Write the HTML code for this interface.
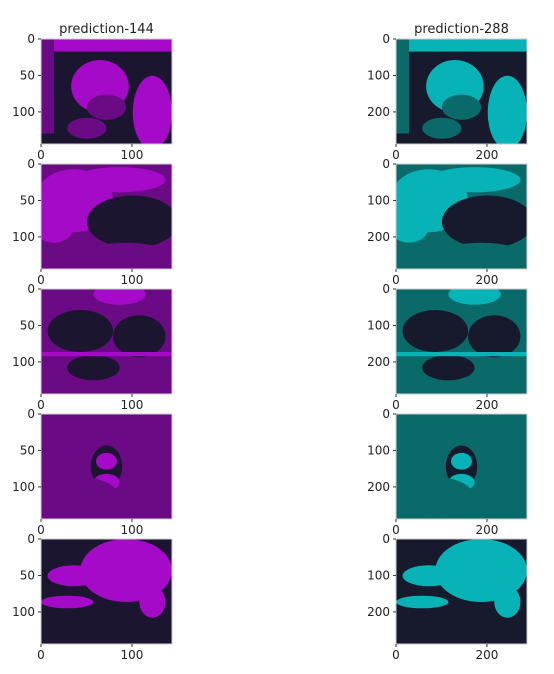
<!DOCTYPE html>
<html><head><meta charset="utf-8"><style>
body{margin:0;background:#fff;width:554px;height:670px;overflow:hidden;font-family:"DejaVu Sans","Liberation Sans",sans-serif}
svg text{font-family:"DejaVu Sans","Liberation Sans",sans-serif;fill:#222}
</style></head><body>
<svg id="fig" width="554" height="670" xmlns="http://www.w3.org/2000/svg"></svg>
<script>
const rowTops=[39,164,289,414,539];
const titles=["prediction-144","prediction-288"];
const leftYTicks=[0,50,100];
const leftXTicks=[0,100];
const rightYTicks=[0,100,200];
const rightXTicks=[0,200];
const leftMax=144, rightMax=288;
// blobs per row: [type, cx, cy, rx, ry, tone] in fractional image coords; tone 0=dark,1=mid,2=bright
const rowBg=[0,1,1,1,0];
const rowBlobs=[
 [["r",0,0,1,0.12,2],["r",0,0,0.1,0.9,1],["e",0.45,0.45,0.22,0.25,2],["e",0.5,0.65,0.15,0.12,1],["e",0.85,0.7,0.15,0.35,2],["e",0.35,0.85,0.15,0.1,1]],
 [["e",0.25,0.35,0.3,0.3,2],["e",0.1,0.6,0.15,0.15,2],["e",0.7,0.55,0.35,0.25,0],["e",0.6,0.15,0.35,0.12,2],["e",0.65,0.85,0.3,0.1,1]],
 [["e",0.6,0.05,0.2,0.1,2],["e",0.3,0.4,0.25,0.2,0],["e",0.75,0.45,0.2,0.2,0],["e",0.4,0.75,0.2,0.12,0],["r",0,0.6,1,0.04,2]],
 [["e",0.5,0.5,0.12,0.2,0],["e",0.5,0.45,0.08,0.08,2],["e",0.5,0.65,0.1,0.08,2],["e",0.3,0.8,0.3,0.2,1]],
 [["e",0.65,0.3,0.35,0.3,2],["e",0.25,0.35,0.2,0.1,2],["e",0.2,0.6,0.2,0.06,2],["r",0,0.75,1,0.25,0],["e",0.85,0.6,0.1,0.15,2]]
];
const pal=[["#1b1530","#6b0a85","#a50ac8"],["#161a2c","#0a6a6a","#07b3b6"]];
const NS="http://www.w3.org/2000/svg";
const svg=document.getElementById('fig');
function el(t,a,p){const e=document.createElementNS(NS,t);for(const k in a)e.setAttribute(k,a[k]);(p||svg).appendChild(e);return e;}
const cols=[{x0:41,w:131,max:leftMax,yt:leftYTicks,xt:leftXTicks},{x0:396,w:131,max:rightMax,yt:rightYTicks,xt:rightXTicks}];
const H=105;
cols.forEach((c,ci)=>{
 const sx=v=>c.x0+v/c.max*c.w;
 const sy=(top,v)=>top+v/c.max*H;
 rowTops.forEach((top,ri)=>{
  const g=el('g',{});
  
  
  const cid='c'+ci+ri;
  const cp=el('clipPath',{id:cid},g);el('rect',{x:c.x0,y:top,width:c.w,height:H},cp);
  const ig=el('g',{'clip-path':'url(#'+cid+')'},g);
  el('rect',{x:c.x0,y:top,width:c.w,height:H,fill:pal[ci][rowBg[ri]]},ig);
  rowBlobs[ri].forEach(b=>{
   const [t,x,y,a,bb,tone]=b;const f=pal[ci][tone];
   if(t==='r')el('rect',{x:c.x0+x*c.w,y:top+y*H,width:a*c.w,height:bb*H,fill:f},ig);
   else el('ellipse',{cx:c.x0+x*c.w,cy:top+y*H,rx:a*c.w,ry:bb*H,fill:f},ig);
  });
  el('rect',{x:c.x0,y:top,width:c.w,height:H,fill:'none',stroke:'#ccc','stroke-width':1},g);
  c.yt.forEach(v=>{const y=sy(top,v);el('line',{x1:c.x0-3,x2:c.x0,y1:y,y2:y,stroke:'#333'},g);
   const t=el('text',{x:c.x0-6,y:y+4,'text-anchor':'end','font-size':12},g);t.textContent=v;});
  c.xt.forEach(v=>{const x=sx(v);el('line',{x1:x,x2:x,y1:top+H,y2:top+H+3,stroke:'#333'},g);
   const t=el('text',{x:x,y:top+H+15,'text-anchor':'middle','font-size':12},g);t.textContent=v;});
  if(ri===0){const t=el('text',{x:c.x0+c.w/2,y:top-6,'text-anchor':'middle','font-size':13},g);t.textContent=titles[ci];
   }
 });
});
</script>
</body></html>
